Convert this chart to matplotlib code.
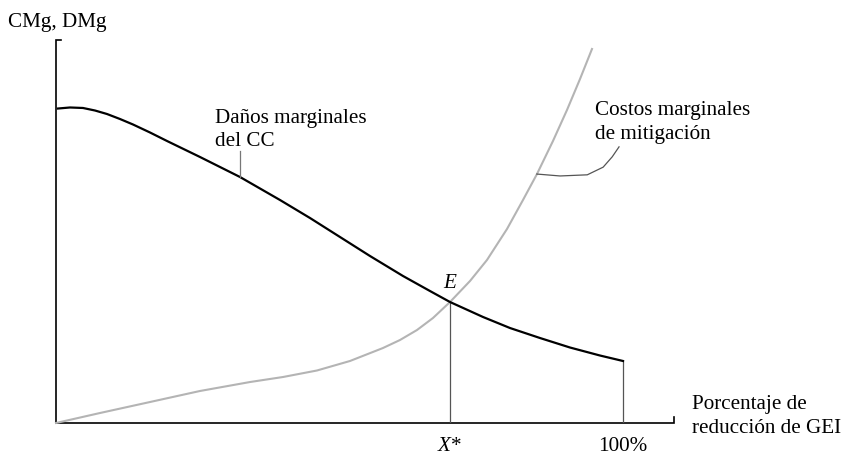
import matplotlib.pyplot as plt

# Marginal damages of climate change (black curve), x = % reduction, y = value
dmg_x = [0.35, 2.47, 4.76, 6.88, 8.99, 11.29, 13.58, 16.58, 19.58, 25.40,
         32.45, 39.51, 44.80, 50.09, 55.38, 61.20, 65.96, 69.49, 75.31, 80.07,
         85.36, 90.65, 95.94, 100.0]
dmg_y = [82.11, 82.38, 82.25, 81.59, 80.68, 79.37, 77.94, 75.85, 73.63, 69.45,
         64.23, 58.22, 53.52, 48.56, 43.60, 38.38, 34.46, 31.59, 27.68, 24.80,
         22.19, 19.71, 17.62, 16.19]

# Marginal mitigation costs (gray curve)
cost_x = [0.0, 7.76, 16.58, 25.40, 34.22, 40.04, 46.03, 51.85, 57.67, 60.67,
          63.67, 66.49, 69.49, 73.02, 76.01, 79.54, 82.36, 84.83, 87.65, 90.12,
          92.42, 94.53]
cost_y = [0.0, 2.61, 5.48, 8.36, 10.70, 12.01, 13.71, 16.19, 19.58, 21.67,
          24.28, 27.42, 31.59, 37.08, 42.56, 50.65, 58.22, 65.01, 73.63, 81.72,
          89.82, 97.65]

# label leader lines
dmg_lead_x = [32.45, 32.45]
dmg_lead_y = [64.2, 71.0]
cost_lead_x = [84.8, 88.9, 93.7, 96.5, 98.1, 99.3]
cost_lead_y = [65.0, 64.5, 64.8, 66.8, 69.5, 72.1]

x_star = 69.49
y_star = 31.59
x_end = 100.0
y_end = 16.19

plt.rcParams['font.family'] = ['Liberation Serif', 'DejaVu Serif']
plt.rcParams['mathtext.fontset'] = 'custom'
plt.rcParams['mathtext.it'] = 'Liberation Serif:italic'
plt.rcParams['mathtext.rm'] = 'Liberation Serif'
fs = 15.2

fig = plt.figure(figsize=(8.44, 4.56), dpi=100)
W, H = 844, 456
x0, x1 = 56, 674      # pixel extent of x axis
y0, y1 = 424, 41      # pixel extent of y axis
px_per_x = (623 - 56) / 100.0
ax = fig.add_axes([x0 / W, (H - y0) / H, (x1 - x0) / W, (y0 - y1) / H])
xm = (x1 - x0) / px_per_x
ax.set_xlim(0, xm)
ax.set_ylim(0, 100)
ax.axis('off')
ax.patch.set_alpha(0)

# axes with end ticks
ax.plot([0, 0, 0.9], [0, 100, 100], color='black', lw=1.2, clip_on=False,
        solid_joinstyle='miter')
ax.plot([0, xm, xm], [0, 0, 1.5], color='black', lw=1.2, clip_on=False,
        solid_joinstyle='miter')

# drop lines
ax.plot([x_star, x_star], [0, y_star], color='#555555', lw=0.9)
ax.plot([x_end, x_end], [0, y_end], color='#555555', lw=0.9)

ax.plot(cost_x, cost_y, color='#b4b4b4', lw=1.5, clip_on=False,
        solid_joinstyle='round')
ax.plot(dmg_x, dmg_y, color='black', lw=1.6, clip_on=False,
        solid_joinstyle='round')

ax.plot(dmg_lead_x, dmg_lead_y, color='#777777', lw=0.9)
ax.plot(cost_lead_x, cost_lead_y, color='#555555', lw=0.9,
        solid_joinstyle='round')


def ftxt(px, py, s, **kw):
    fig.text(px / W, 1 - py / H, s, fontsize=fs, va='center', **kw)


ftxt(8, 22, 'CMg, DMg')
ftxt(215, 118, 'Daños marginales')
ftxt(215, 141, 'del CC')
ftxt(595, 110, 'Costos marginales')
ftxt(595, 134, 'de mitigación')
ftxt(692, 405, 'Porcentaje de')
ftxt(692, 429, 'reducción de GEI')
ftxt(450, 283, 'E', ha='center', style='italic')
ftxt(450, 447, r'$X$*', ha='center')
ftxt(623, 447, '100%', ha='center')

fig.savefig('out.png', dpi=100)
